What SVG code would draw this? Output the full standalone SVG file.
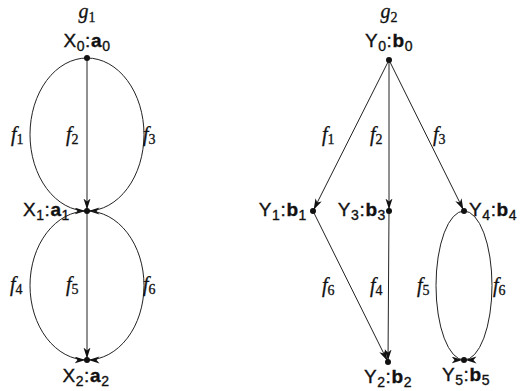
<svg xmlns="http://www.w3.org/2000/svg" width="531" height="391" viewBox="0 0 531 391">
<defs>
<marker id="ah" markerUnits="userSpaceOnUse" markerWidth="14" markerHeight="8" refX="12.5" refY="3.5" orient="auto">
<path d="M0,0 L11,3.5 L0,7 L3,3.5 z" fill="#111"/>
</marker>
<style>
.e{fill:none;stroke:#222;stroke-width:1;marker-end:url(#ah)}
.dot{fill:#111}
.n{font-family:"Liberation Sans",Arial,sans-serif;font-size:19px;fill:#111;stroke:#111;stroke-width:0.35;letter-spacing:0.6px}
.n .s{font-size:14px}
.n .b{font-weight:bold}
.f{font-family:"Liberation Serif","Times New Roman",serif;font-size:20px;font-style:italic;fill:#111;stroke:#111;stroke-width:0.3}
.f .s{font-size:14px;font-style:normal}
.g{font-family:"Liberation Serif","Times New Roman",serif;font-size:20px;font-style:italic;fill:#111;stroke:#111;stroke-width:0.3;text-anchor:middle}
.g .s{font-size:14px;font-style:normal}
</style>
</defs>
<rect width="531" height="391" fill="#fff"/>

<text class="g" x="87" y="18">g<tspan class="s" dy="4">1</tspan></text>
<text class="g" x="389" y="18">g<tspan class="s" dy="4">2</tspan></text>

<g id="connectors">
<!-- g1 -->
<path class="e" d="M87,58 A57,76.5 0 0 0 87,211"/>
<path class="e" d="M87,58 L87,211"/>
<path class="e" d="M87,58 A57,76.5 0 0 1 87,211"/>
<path class="e" d="M87,211 A57,74.5 0 0 0 87,360"/>
<path class="e" d="M87,211 L87,360"/>
<path class="e" d="M87,211 A57,74.5 0 0 1 87,360"/>
<!-- g2 -->
<path class="e" d="M389,60 L313,211"/>
<path class="e" d="M389,60 L389,211"/>
<path class="e" d="M389,60 L464,211"/>
<path class="e" d="M313,211 L388,362"/>
<path class="e" d="M389,211 L388,362"/>
<path class="e" d="M464,211 A28,74.5 0 0 0 464,360"/>
<path class="e" d="M464,211 A28,74.5 0 0 1 464,360"/>
</g>

<g id="edge-labels">
<text class="f" x="11" y="141">f<tspan class="s" dy="3">1</tspan></text>
<text class="f" x="66" y="141">f<tspan class="s" dy="3">2</tspan></text>
<text class="f" x="143" y="141">f<tspan class="s" dy="3">3</tspan></text>
<text class="f" x="10" y="291">f<tspan class="s" dy="3">4</tspan></text>
<text class="f" x="66" y="291">f<tspan class="s" dy="3">5</tspan></text>
<text class="f" x="143" y="291">f<tspan class="s" dy="3">6</tspan></text>
<text class="f" x="322" y="141">f<tspan class="s" dy="3">1</tspan></text>
<text class="f" x="370" y="141">f<tspan class="s" dy="3">2</tspan></text>
<text class="f" x="433" y="141">f<tspan class="s" dy="3">3</tspan></text>
<text class="f" x="322" y="292">f<tspan class="s" dy="3">6</tspan></text>
<text class="f" x="370" y="292">f<tspan class="s" dy="3">4</tspan></text>
<text class="f" x="417" y="292">f<tspan class="s" dy="3">5</tspan></text>
<text class="f" x="493" y="292">f<tspan class="s" dy="3">6</tspan></text>
</g>

<g id="X0"><circle class="dot" cx="87" cy="58" r="3"/>
<text class="n" x="87" y="47" text-anchor="middle">X<tspan class="s" dy="4">0</tspan><tspan dy="-4">:</tspan><tspan class="b">a</tspan><tspan class="s" dy="4">0</tspan></text></g>
<g id="X1"><circle class="dot" cx="87" cy="211" r="3"/>
<text class="n" x="70" y="216" text-anchor="end">X<tspan class="s" dy="4">1</tspan><tspan dy="-4">:</tspan><tspan class="b">a</tspan><tspan class="s" dy="4">1</tspan></text></g>
<g id="X2"><circle class="dot" cx="87" cy="360" r="3"/>
<text class="n" x="86" y="382" text-anchor="middle">X<tspan class="s" dy="4">2</tspan><tspan dy="-4">:</tspan><tspan class="b">a</tspan><tspan class="s" dy="4">2</tspan></text></g>

<g id="Y0"><circle class="dot" cx="389" cy="60" r="3"/>
<text class="n" x="389" y="47" text-anchor="middle">Y<tspan class="s" dy="4">0</tspan><tspan dy="-4">:</tspan><tspan class="b">b</tspan><tspan class="s" dy="4">0</tspan></text></g>
<g id="Y1"><circle class="dot" cx="313" cy="211" r="3"/>
<text class="n" x="307" y="216" text-anchor="end">Y<tspan class="s" dy="4">1</tspan><tspan dy="-4">:</tspan><tspan class="b">b</tspan><tspan class="s" dy="4">1</tspan></text></g>
<g id="Y3"><circle class="dot" cx="389" cy="211" r="3"/>
<text class="n" x="386" y="216" text-anchor="end">Y<tspan class="s" dy="4">3</tspan><tspan dy="-4">:</tspan><tspan class="b">b</tspan><tspan class="s" dy="4">3</tspan></text></g>
<g id="Y4"><circle class="dot" cx="464" cy="211" r="3"/>
<text class="n" x="469" y="216" text-anchor="start">Y<tspan class="s" dy="4">4</tspan><tspan dy="-4">:</tspan><tspan class="b">b</tspan><tspan class="s" dy="4">4</tspan></text></g>
<g id="Y2"><circle class="dot" cx="388" cy="362" r="3"/>
<text class="n" x="388" y="383" text-anchor="middle">Y<tspan class="s" dy="4">2</tspan><tspan dy="-4">:</tspan><tspan class="b">b</tspan><tspan class="s" dy="4">2</tspan></text></g>
<g id="Y5"><circle class="dot" cx="464" cy="360" r="3"/>
<text class="n" x="466" y="381" text-anchor="middle">Y<tspan class="s" dy="4">5</tspan><tspan dy="-4">:</tspan><tspan class="b">b</tspan><tspan class="s" dy="4">5</tspan></text></g>
</svg>
